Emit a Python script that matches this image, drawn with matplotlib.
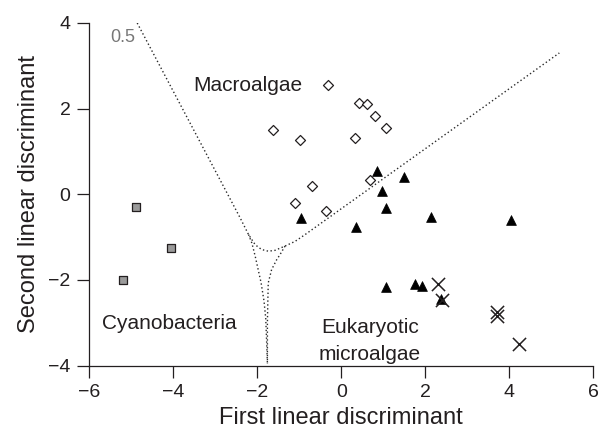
import matplotlib
matplotlib.use("Agg")
import matplotlib.pyplot as plt

plt.rcParams['font.family'] = ['Liberation Sans', 'DejaVu Sans']

# ---- data ----
cyano_x = [-4.88, -4.06, -5.20]
cyano_y = [-0.30, -1.26, -2.00]

macro_x = [-0.31, 0.41, 0.60, 0.80, 1.06, 0.33, -1.62, -0.99, -0.69, -1.11, -0.36, 0.69]
macro_y = [2.56, 2.12, 2.11, 1.82, 1.54, 1.31, 1.50, 1.27, 0.20, -0.20, -0.40, 0.33]

tri_x = [0.84, 1.50, 0.98, 1.06, 2.13, 4.03, 0.34, -0.96, 1.07, 1.75, 1.93, 2.37]
tri_y = [0.54, 0.40, 0.08, -0.33, -0.53, -0.60, -0.76, -0.56, -2.17, -2.10, -2.15, -2.44]

cross_x = [2.30, 2.40, 3.70, 3.70, 4.22]
cross_y = [-2.09, -2.48, -2.76, -2.85, -3.49]

# 0.5 probability contours
upper_x = [-4.86, -2.41, -2.21, -2.05, -1.90, -1.74, -1.58, -1.34, -1.10, -0.86, 5.19]
upper_y = [4.00, -0.55, -0.94, -1.18, -1.29, -1.33, -1.31, -1.21, -1.10, -0.94, 3.30]
lowl_x = [-2.21, -2.13, -2.05, -1.98, -1.91, -1.84, -1.80, -1.78, -1.76]
lowl_y = [-0.94, -1.14, -1.45, -1.76, -2.07, -2.50, -2.90, -3.40, -3.95]
lowr_x = [-1.34, -1.46, -1.54, -1.66, -1.74, -1.75, -1.76, -1.76]
lowr_y = [-1.21, -1.41, -1.53, -1.76, -2.07, -2.50, -3.00, -3.95]

xticks = [-6, -4, -2, 0, 2, 4, 6]
yticks = [-4, -2, 0, 2, 4]

TXT = '#231f20'

fig = plt.figure(figsize=(6.06, 4.38), dpi=100)
ax = fig.add_axes([0.1474, 0.1655, 0.8317, 0.782])

ls = (0, (1.0, 1.8))
for xs, ys in [(upper_x, upper_y), (lowl_x, lowl_y), (lowr_x, lowr_y)]:
    ax.plot(xs, ys, color='#2a2a2a', lw=1.0, linestyle=ls, zorder=1)

ax.scatter(cyano_x, cyano_y, marker='s', s=34, facecolor='#9a9a9a',
           edgecolor=TXT, linewidths=0.9, zorder=3)
ax.scatter(macro_x, macro_y, marker='D', s=26, facecolor='white',
           edgecolor=TXT, linewidths=0.9, zorder=3)
ax.scatter(tri_x, tri_y, marker='^', s=50, facecolor='black',
           edgecolor='black', linewidths=0.5, zorder=3)
ax.scatter(cross_x, cross_y, marker='x', s=90, color=TXT,
           linewidths=1.1, zorder=4)

ax.text(-5.51, 3.55, '0.5', fontsize=13, color='#777777', ha='left', va='baseline')
ax.text(-3.52, 2.42, 'Macroalgae', fontsize=15, color=TXT, ha='left', va='baseline')
ax.text(-5.70, -3.15, 'Cyanobacteria', fontsize=15, color=TXT, ha='left', va='baseline')
ax.text(0.68, -3.24, 'Eukaryotic', fontsize=15, color=TXT, ha='center', va='baseline')
ax.text(0.68, -3.86, 'microalgae', fontsize=15, color=TXT, ha='center', va='baseline')

ax.set_xlim(-6, 6)
ax.set_ylim(-4, 4)
ax.set_xticks(xticks)
ax.set_yticks(yticks)
ax.tick_params(direction='out', length=8.5, width=0.9, colors=TXT,
               labelsize=14, pad=5)
for side in ['top', 'right']:
    ax.spines[side].set_visible(False)
for side in ['left', 'bottom']:
    ax.spines[side].set_linewidth(0.9)
    ax.spines[side].set_color(TXT)

ax.set_xlabel('First linear discriminant', fontsize=17, color=TXT, labelpad=4)
ax.set_ylabel('Second linear discriminant', fontsize=17, color=TXT, labelpad=6)

fig.savefig('out.png', dpi=100)
